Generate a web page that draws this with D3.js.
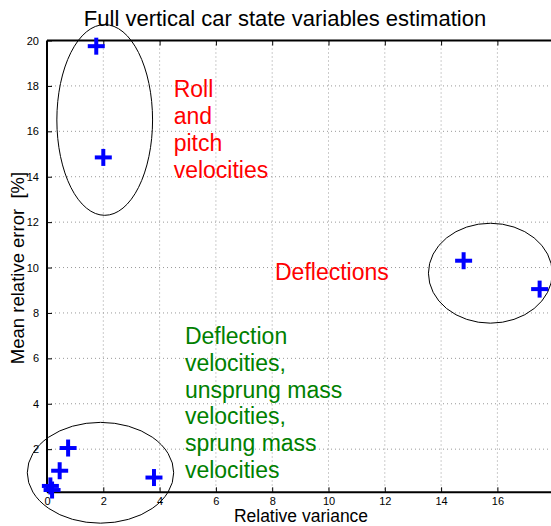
<!DOCTYPE html>
<html>
<head>
<meta charset="utf-8">
<script src="https://cdn.jsdelivr.net/npm/d3@7"></script>
<style>
  body { margin: 0; background: #fff; }
  svg { display: block; font-family: "Liberation Sans", Arial, Helvetica, sans-serif; }
</style>
</head>
<body>
<div id="grafica"></div>
<script>
// datos
const puntosX = [1.75, 2.0, 14.8, 17.5, 0.75, 0.45, 0.12, 0.18, 3.8];
const puntosY = [19.75, 14.85, 10.3, 9.05, 2.05, 1.05, 0.38, 0.2, 0.75];

const elipseCx = [2.05, 15.75, 1.9];
const elipseCy = [16.5, 9.75, 0.96];
const elipseRx = [1.7, 2.2, 2.6];
const elipseRy = [4.2, 2.2, 2.22];

const ticksX = [0, 2, 4, 6, 8, 10, 12, 14, 16];
const ticksY = [2, 4, 6, 8, 10, 12, 14, 16, 18, 20];

const textoRojo = ["Roll", "and", "pitch", "velocities"];
const textoDefl = ["Deflections"];
const textoVerde = ["Deflection", "velocities,", "unsprung mass", "velocities,", "sprung mass", "velocities"];
// posicion de los textos en coordenadas de datos (x, y de la primera linea)
const anotaX = [4.5, 8.1, 4.9];
const anotaY = [17.5, 9.45, 6.63];

const titulo = "Full vertical car state variables estimation";
const etiquetaX = "Relative variance";
const etiquetaY = "Mean relative error  [%]";

const W = 551, H = 526;

const svg = d3.select("#grafica").append("svg")
  .attr("width", W)
  .attr("height", H);

const x = d3.scaleLinear().domain([0, 18]).range([47, 553.7]);
const y = d3.scaleLinear().domain([0.1, 20]).range([492.3, 40.5]);

// rejilla punteada
svg.append("g")
  .selectAll("line")
  .data(ticksX.filter(d => d > 0))
  .enter()
  .append("line")
    .attr("x1", d => x(d)).attr("x2", d => x(d))
    .attr("y1", y(20)).attr("y2", y(0.1))
    .attr("stroke", "#999")
    .attr("stroke-dasharray", "1,3");

svg.append("g")
  .selectAll("line")
  .data(ticksY.filter(d => d < 20))
  .enter()
  .append("line")
    .attr("x1", x(0)).attr("x2", W)
    .attr("y1", d => y(d)).attr("y2", d => y(d))
    .attr("stroke", "#999")
    .attr("stroke-dasharray", "1,3");

// ejes
const ejeX = svg.append("g")
  .attr("transform", `translate(0,${y(0.1)})`)
  .call(d3.axisBottom(x).tickValues(ticksX).tickSize(-5).tickPadding(5).tickFormat(d3.format("d")));

const ejeArriba = svg.append("g")
  .attr("transform", `translate(0,${y(20)})`)
  .call(d3.axisTop(x).tickValues(ticksX).tickSize(-5).tickFormat(""));

const ejeY = svg.append("g")
  .attr("transform", `translate(${x(0)},0)`)
  .call(d3.axisLeft(y).tickValues(ticksY).tickSize(-5).tickPadding(8).tickFormat(d3.format("d")));

[ejeX, ejeArriba, ejeY].forEach(g => {
  g.select(".domain").attr("stroke", "#000").attr("stroke-width", 2);
  g.selectAll(".tick line").attr("stroke", "#000");
  g.selectAll("text")
    .attr("font-size", 11)
    .attr("font-family", "Liberation Sans, Arial, sans-serif")
    .attr("fill", "#000");
});
ejeX.select(".domain").attr("d", `M${x(0)},0H${W}`);
ejeArriba.select(".domain").attr("d", `M${x(0)},0H${W}`);
ejeY.select(".domain").attr("d", `M0,${y(0.1)}V${y(20)}`);

// elipses
svg.append("g")
  .selectAll("ellipse")
  .data(elipseCx)
  .enter()
  .append("ellipse")
    .attr("cx", d => x(d))
    .attr("cy", (d, i) => y(elipseCy[i]))
    .attr("rx", (d, i) => x(d + elipseRx[i]) - x(d))
    .attr("ry", (d, i) => y(elipseCy[i]) - y(elipseCy[i] + elipseRy[i]))
    .attr("fill", "none")
    .attr("stroke", "#000")
    .attr("stroke-width", 1);

// marcadores "+"
const cruz = 8.5;
const marcas = svg.append("g")
  .selectAll("g")
  .data(puntosX)
  .enter()
  .append("g")
    .attr("transform", (d, i) => `translate(${x(d)},${y(puntosY[i])})`);
marcas.append("line")
  .attr("x1", -cruz).attr("x2", cruz).attr("y1", 0).attr("y2", 0)
  .attr("stroke", "#0000ff").attr("stroke-width", 4);
marcas.append("line")
  .attr("x1", 0).attr("x2", 0).attr("y1", -cruz).attr("y2", cruz)
  .attr("stroke", "#0000ff").attr("stroke-width", 4);

// anotaciones
const anota = (lineas, i, color) => {
  const t = svg.append("text")
    .attr("x", x(anotaX[i]))
    .attr("y", y(anotaY[i]))
    .attr("font-size", 23)
    .attr("fill", color);
  t.selectAll("tspan")
    .data(lineas)
    .enter()
    .append("tspan")
      .attr("x", x(anotaX[i]))
      .attr("dy", (d, j) => j == 0 ? 0 : 26.8)
      .text(d => d);
};
anota(textoRojo, 0, "#ff0000");
anota(textoDefl, 1, "#ff0000");
anota(textoVerde, 2, "#008000");

// titulos
svg.append("text")
  .attr("x", 285).attr("y", 25.5)
  .attr("text-anchor", "middle")
  .attr("font-size", 22)
  .text(titulo);

svg.append("text")
  .attr("x", 301).attr("y", 521.8)
  .attr("text-anchor", "middle")
  .attr("font-size", 17.5)
  .text(etiquetaX);

svg.append("text")
  .attr("transform", "translate(24,268) rotate(-90)")
  .attr("text-anchor", "middle")
  .attr("font-size", 18.5)
  .attr("xml:space", "preserve")
  .text(etiquetaY);
</script>
</body>
</html>
